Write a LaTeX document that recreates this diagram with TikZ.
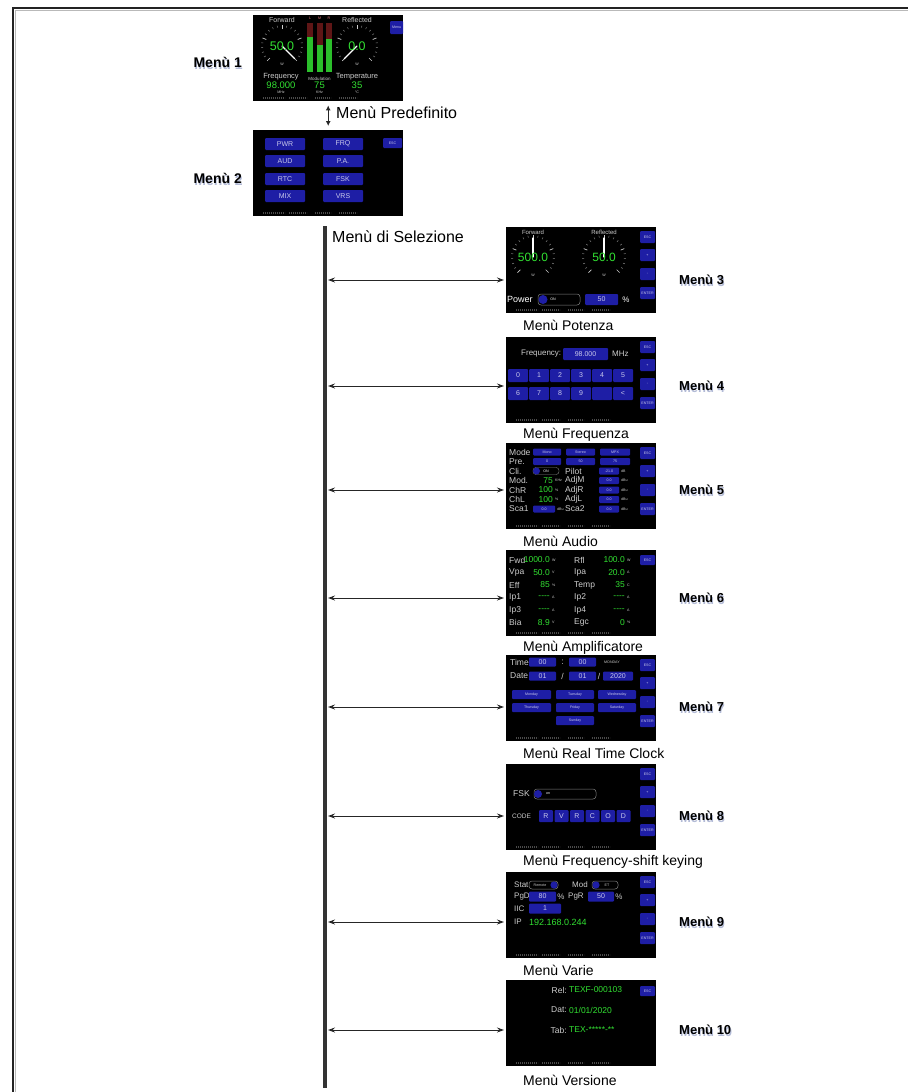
\documentclass[tikz,border=0pt]{standalone}
\usepackage{fontspec}
\setmainfont{Liberation Sans}
\usetikzlibrary{arrows.meta}
\definecolor{btnblue}{RGB}{30,30,165}
\definecolor{btntxt}{RGB}{200,200,235}
\definecolor{grn}{RGB}{50,225,50}
\definecolor{lgray}{RGB}{205,205,205}
\definecolor{sgray}{RGB}{75,75,75}
\definecolor{shadowc}{RGB}{178,186,214}
\definecolor{framec}{RGB}{35,35,35}
\definecolor{barred}{RGB}{95,22,22}
\newcounter{autonode}
\newcommand\fsz[1]{\fontsize{#1}{#1}\selectfont}
\newcommand\scrbtn[6][bt]{%
  \fill[bbox] (#2,#3) rectangle (#4,#5);
  \node[#1] at ({(#2+#4)/2},{(#3+#5)/2}) {#6};}
\newcommand\rcol{%
  \scrbtn[tn]{134}{4}{149}{16}{ESC}%
  \scrbtn[tn]{134}{22}{149}{34}{+}%
  \scrbtn[tn]{134}{41}{149}{53}{-}%
  \scrbtn[tn]{134}{60}{149}{72}{ENTER}}
\newcommand\sbar[1][83]{%
  \foreach \xa/\xb in {10/32,36/54,62/78,86/104}{%
    \draw[sgray, line width=1.2pt, dash pattern=on 1.3pt off 0.7pt] (\xa,#1) -- (\xb,#1);}}
\newcommand\gauge[6]{%
  \foreach \i in {0,...,20}{%
    \pgfmathsetmacro\ang{225-13.5*\i}%
    \pgfmathtruncatemacro\maj{mod(\i,5)}%
    \ifnum\maj=0
      \draw[lgray, line width=0.7pt] ({#1+(#3-4)*cos(\ang)},{#2-(#3-4)*sin(\ang)}) -- ({#1+#3*cos(\ang)},{#2-#3*sin(\ang)});
    \else
      \draw[gray, line width=0.5pt] ({#1+(#3-2)*cos(\ang)},{#2-(#3-2)*sin(\ang)}) -- ({#1+#3*cos(\ang)},{#2-#3*sin(\ang)});
    \fi}%
  \draw[white, line width=1.1pt, line cap=round] (#1,#2) -- ({#1+(#3-3)*cos(#5)},{#2-(#3-3)*sin(#5)});
  \node[gv, font=\fsz{#6}] at (#1,#2) {#4};
  \node[tn, text=lgray] at (#1,#2+18) {W};}
\begin{document}
\begin{tikzpicture}[x=1pt,y=-1pt,
  an/.code={\stepcounter{autonode}\pgfkeysalso{/tikz/name=an\arabic{autonode}}},
  scr/.style={fill=black, minimum width=150pt, minimum height=86pt, inner sep=0pt, anchor=north west},
  tx/.style={an, inner sep=0pt, text=lgray, font=\fsz{8.5}},
  tn/.style={an, inner sep=0pt, text=btntxt, font=\fsz{3.6}},
  bt/.style={an, inner sep=0pt, text=btntxt, font=\fsz{7}},
  gv/.style={an, inner sep=0pt, text=grn, font=\fsz{8.5}},
  bbox/.style={fill=btnblue, rounded corners=1pt},
  caption/.style={inner sep=0pt, anchor=west, font=\fsz{14}},
  mlab/.style={inner sep=0pt, anchor=west, font=\bfseries\fsz{13}},
  mshadow/.style={mlab, text=shadowc},
  harrow/.style={{Stealth[length=7pt,width=5pt]}-{Stealth[length=7pt,width=5pt]}, line width=1pt, black!85, shorten >=2pt},
  varrow/.style={{Latex[length=5pt,width=5pt]}-{Latex[length=5pt,width=5pt]}, line width=1pt, black!85, shorten >=4pt, shorten <=4pt},
  bar/.style={line width=4pt, black!80},
]
\useasboundingbox (0,0) rectangle (908,1092);
% frame
\draw[gray!55, line width=0.9pt] (15.2,1092) -- (15.2,10.4) -- (908,10.4);
\draw[framec, line width=2.4pt] (12.8,1092) -- (12.8,8) -- (908,8);

% screens
\node[scr] (s1) at (253,15) {};
\node[scr] (s2) at (253,130) {};
\node[scr] (s3) at (506,227) {};
\node[scr] (s4) at (506,337) {};
\node[scr] (s5) at (506,443) {};
\node[scr] (s6) at (506,550) {};
\node[scr] (s7) at (506,655) {};
\node[scr] (s8) at (506,764) {};
\node[scr] (s9) at (506,872) {};
\node[scr] (s10) at (506,980) {};

% ---------- screen 1
\begin{scope}[shift={(s1.north west)}]
 \node[tx, font=\fsz{7}] at (29,5) {Forward};
 \node[tx, font=\fsz{7}] at (104,5) {Reflected};
 \gauge{29}{31}{21}{50.0}{-45}{12.5}
 \gauge{104}{31}{21}{0.0}{225}{12.5}
 \foreach \bx/\gy/\lab in {57/22/L, 66.5/30/M, 76/24/R}{
   \fill[barred] (\bx-3,8) rectangle (\bx+3,57);
   \fill[grn!85!black] (\bx-3,\gy) rectangle (\bx+3,57);
   \node[tn, text=red!40!lgray] at (\bx,3.5) {\lab};
 }
 \scrbtn[tn]{137}{6}{150}{19}{Menu}
 \node[tx, font=\fsz{7.5}] at (28,62) {Frequency};
 \node[gv, font=\fsz{9.5}] at (28,70) {98.000};
 \node[tn, text=lgray] at (28,77) {MHz};
 \node[tx, font=\fsz{4.5}] at (66.5,64) {Modulation};
 \node[gv, font=\fsz{9.5}] at (66.5,70) {75};
 \node[tn, text=lgray] at (66.5,77) {KHz};
 \node[tx, font=\fsz{7.5}] at (104,62) {Temperature};
 \node[gv, font=\fsz{9.5}] at (104,70) {35};
 \node[tn, text=lgray] at (104,77) {°C};
 \sbar
\end{scope}

% ---------- screen 2
\begin{scope}[shift={(s2.north west)}]
 \scrbtn{12}{8}{52}{20}{PWR}\scrbtn{70}{8}{110}{20}{FRQ}
 \scrbtn{12}{25}{52}{37}{AUD}\scrbtn{70}{25}{110}{37}{P.A.}
 \scrbtn{12}{43}{52}{55}{RTC}\scrbtn{70}{43}{110}{55}{FSK}
 \scrbtn{12}{60}{52}{72}{MIX}\scrbtn{70}{60}{110}{72}{VRS}
 \scrbtn[tn]{130}{8}{149}{18}{ESC}
 \sbar
\end{scope}

% ---------- screen 3
\begin{scope}[shift={(s3.north west)}]
 \node[tx, font=\fsz{6}] at (27,5) {Forward};
 \node[tx, font=\fsz{6}] at (98,5) {Reflected};
 \gauge{27}{30}{22}{500.0}{90}{12}
 \gauge{98}{30}{22}{50.0}{90}{12}
 \rcol
 \node[tx, font=\fsz{9}, anchor=west, text=white] at (1,72.5) {Power};
 \draw[gray, line width=0.5pt, rounded corners=3pt] (32,67) rectangle (74,78);
 \fill[btnblue] (37,72.5) circle (4.5);
 \node[tn, text=white] at (47,72.5) {ON};
 \scrbtn[bt]{79}{67}{112}{78}{50}
 \node[tx, font=\fsz{8}, text=white] at (120,72.5) {\%};
 \sbar
\end{scope}

% ---------- screen 4
\begin{scope}[shift={(s4.north west)}]
 \node[tx, font=\fsz{8}, anchor=west] at (15,17) {Frequency:};
 \scrbtn[bt]{57}{11}{102}{23}{98.000}
 \node[tx, font=\fsz{8}, anchor=west] at (106,17) {MHz};
 \foreach \i/\t in {0/0,1/1,2/2,3/3,4/4,5/5}{\scrbtn{2+21*\i}{32}{22+21*\i}{45}{\t}}
 \foreach \i/\t in {0/6,1/7,2/8,3/9,4/{},5/<}{\scrbtn{2+21*\i}{50}{22+21*\i}{63}{\t}}
 \rcol
 \sbar
\end{scope}

% ---------- screen 5
\begin{scope}[shift={(s5.north west)}]
 \foreach \yy/\ll in {9/Mode,18.5/Pre.,28/Cli.,37.5/Mod.,47/ChR,56.5/ChL,66/Sca1}{\node[tx,anchor=west] at (3,\yy) {\ll};}
 \scrbtn[tn]{27}{5.5}{55}{12.5}{Mono}\scrbtn[tn]{60}{5.5}{89}{12.5}{Stereo}\scrbtn[tn]{94}{5.5}{124}{12.5}{MPX}
 \scrbtn[tn]{27}{15}{55}{22}{0}\scrbtn[tn]{60}{15}{89}{22}{50}\scrbtn[tn]{94}{15}{124}{22}{75}
 \draw[gray, line width=0.4pt, rounded corners=3pt] (27,24.5) rectangle (53,31.5);
 \fill[btnblue] (30.5,28) circle (3.5);
 \node[tn, text=white] at (40,28) {ON};
 \foreach \yy/\ll in {28/Pilot,37.5/AdjM,47/AdjR,56.5/AdjL,66/Sca2}{\node[tx,anchor=west] at (59,\yy) {\ll};}
 \foreach \yy/\vv/\uu in {28/-21.0/dB,37.5/0.0/dBu,47/0.0/dBu,56.5/0.0/dBu,66/0.0/dBu}{\scrbtn[tn]{93}{\yy-3.5}{113}{\yy+3.5}{\vv}\node[tn,text=lgray,anchor=west] at (115,\yy) {\uu};}
 \node[gv,anchor=east] at (47,37.5) {75}; \node[tn,text=lgray,anchor=west] at (49,37.5) {KHz};
 \node[gv,anchor=east] at (47,47) {100}; \node[tn,text=lgray,anchor=west] at (49,47) {\%};
 \node[gv,anchor=east] at (47,56.5) {100}; \node[tn,text=lgray,anchor=west] at (49,56.5) {\%};
 \scrbtn[tn]{27}{62.5}{49}{69.5}{0.0}\node[tn,text=lgray,anchor=west] at (51,66) {dBu};
 \rcol
 \sbar
\end{scope}

% ---------- screen 6
\begin{scope}[shift={(s6.north west)}]
 \foreach \yy/\la/\va/\ua/\lb/\vb/\ub in {10/Fwd/1000.0/W/Rfl/100.0/W, 22.5/Vpa/50.0/V/Ipa/20.0/A, 35/Eff/85/\%/Temp/35/C, 47.5/Ip1/{-{}-{}-{}-}/A/Ip2/{-{}-{}-{}-}/A, 60/Ip3/{-{}-{}-{}-}/A/Ip4/{-{}-{}-{}-}/A, 72.5/Bia/8.9/V/Egc/0/\%}{
  \node[tx,anchor=west] at (3,\yy) {\la};
  \node[gv,anchor=east] at (44,\yy) {\va};
  \node[tn,text=lgray,anchor=west] at (46,\yy) {\ua};
  \node[tx,anchor=west] at (68,\yy) {\lb};
  \node[gv,anchor=east] at (119,\yy) {\vb};
  \node[tn,text=lgray,anchor=west] at (121,\yy) {\ub};
 }
 \scrbtn[tn]{134}{5}{149}{15}{ESC}
 \sbar
\end{scope}

% ---------- screen 7
\begin{scope}[shift={(s7.north west)}]
 \node[tx,anchor=west] at (4,7) {Time};
 \scrbtn{23}{2.5}{50}{11.5}{00}
 \node[tx] at (56.5,7) {:};
 \scrbtn{63}{2.5}{90}{11.5}{00}
 \node[tn,text=lgray,anchor=west] at (98,7) {MONDAY};
 \node[tx,anchor=west] at (4,21) {Date};
 \scrbtn{23}{16.5}{50}{25.5}{01}
 \node[tx] at (56.5,21) {/};
 \scrbtn{63}{16.5}{90}{25.5}{01}
 \node[tx] at (93,21) {/};
 \scrbtn{97}{16.5}{127}{25.5}{2020}
 \scrbtn[tn]{6}{35}{45}{44}{Monday}\scrbtn[tn]{50}{35}{88}{44}{Tuesday}\scrbtn[tn]{92}{35}{130}{44}{Wednesday}
 \scrbtn[tn]{6}{48}{45}{57}{Thursday}\scrbtn[tn]{50}{48}{88}{57}{Friday}\scrbtn[tn]{92}{48}{130}{57}{Saturday}
 \scrbtn[tn]{50}{61}{88}{70}{Sunday}
 \rcol
 \sbar
\end{scope}

% ---------- screen 8
\begin{scope}[shift={(s8.north west)}]
 \node[tx,anchor=west] at (7,30) {FSK};
 \draw[gray, line width=0.5pt, rounded corners=3pt] (28,25) rectangle (90,35);
 \fill[btnblue] (32,30) circle (4);
 \node[tn,text=white] at (42,30) {on};
 \node[tx,font=\fsz{6.5},anchor=west] at (6,52) {CODE};
 \foreach \i/\t in {0/R,1/V,2/R,3/C,4/O,5/D}{\scrbtn{33+15.5*\i}{46}{47+15.5*\i}{58}{\t}}
 \rcol
 \sbar
\end{scope}

% ---------- screen 9
\begin{scope}[shift={(s9.north west)}]
 \node[tx,font=\fsz{8},anchor=west] at (8,13) {Stat};
 \draw[gray, line width=0.5pt, rounded corners=3pt] (23,9) rectangle (52,17);
 \fill[btnblue] (48,13) circle (3.6);
 \node[tn,text=lgray] at (34,13) {Remote};
 \node[tx,font=\fsz{8},anchor=west] at (66,13) {Mod};
 \draw[gray, line width=0.5pt, rounded corners=3pt] (86,9) rectangle (112,17);
 \fill[btnblue] (90,13) circle (3.6);
 \node[tn,text=lgray] at (101,13) {ET};
 \node[tx,font=\fsz{8},anchor=west] at (8,24.5) {PgD};
 \scrbtn{23}{19.5}{50}{29.5}{80}
 \node[tx,font=\fsz{8}] at (55,24.5) {\%};
 \node[tx,font=\fsz{8},anchor=west] at (62,24.5) {PgR};
 \scrbtn{82}{19.5}{108}{29.5}{50}
 \node[tx,font=\fsz{8}] at (113,24.5) {\%};
 \node[tx,font=\fsz{8},anchor=west] at (8,36.5) {IIC};
 \scrbtn{23}{31.5}{55}{41.5}{1}
 \node[tx,font=\fsz{8},anchor=west] at (8,50) {IP};
 \node[gv,font=\fsz{9},anchor=west] at (23,50) {192.168.0.244};
 \rcol
 \sbar
\end{scope}

% ---------- screen 10
\begin{scope}[shift={(s10.north west)}]
 \node[tx,anchor=east] at (61,10) {Rel:};
 \node[gv,anchor=west] at (63,10) {TEXF-000103};
 \node[tx,anchor=east] at (61,30) {Dat:};
 \node[gv,anchor=west] at (63,30) {01/01/2020};
 \node[tx,anchor=east] at (61,50) {Tab:};
 \node[gv,anchor=west] at (63,50) {TEX-*****-**};
 \scrbtn[tn]{134}{6}{149}{16}{ESC}
 \sbar
\end{scope}

% ---------- labels
\node[mshadow, anchor=east, font=\bfseries\fsz{14}] (m1s) at (242.8,64) {Menù 1};
\node[mlab, anchor=east, font=\bfseries\fsz{14}] (m1) at (242,62) {Menù 1};
\node[mshadow, anchor=east, font=\bfseries\fsz{14}] (m2s) at (242.8,180) {Menù 2};
\node[mlab, anchor=east, font=\bfseries\fsz{14}] (m2) at (242,178) {Menù 2};

\draw[varrow] (s1.south) -- (s2.north);
\node[caption, font=\fsz{16}] (pred) at (336,113) {Menù Predefinito};

\coordinate (bartop) at (325,226);
\coordinate (barbot) at (325,1088);
\draw[bar] (bartop) -- (barbot);
\node[caption, font=\fsz{16}] (sel) at (332,237) {Menù di Selezione};

\foreach \k/\ay in {3/280, 4/386, 5/490, 6/598, 7/707, 8/816, 9/922, 10/1030}{
  \coordinate (a\k) at (328,\ay);
  \draw[harrow] (a\k) -- (s\k.west |- a\k);
  \node[mshadow] (m\k s) at (679.8,\ay+2) {Menù \k};
  \node[mlab] (m\k) at (679,\ay) {Menù \k};
}
\node[caption] (c3) at (523,325) {Menù Potenza};
\node[caption] (c4) at (523,435) {Menù Frequenza};
\node[caption] (c5) at (523,541) {Menù Audio};
\node[caption] (c6) at (523,648) {Menù Amplificatore};
\node[caption] (c7) at (523,753) {Menù Real Time Clock};
\node[caption] (c8) at (523,862) {Menù Frequency-shift keying};
\node[caption] (c9) at (523,970) {Menù Varie};
\node[caption] (c10) at (523,1080) {Menù Versione};
\end{tikzpicture}
\end{document}
